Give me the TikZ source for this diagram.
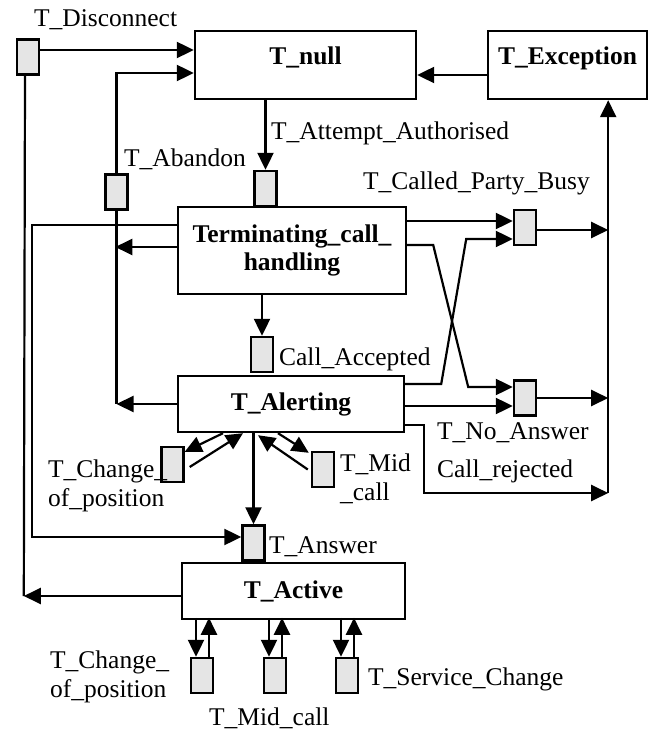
\documentclass[tikz,border=0pt]{standalone}
\usepackage{fontspec}
\setmainfont{Liberation Serif}
\usetikzlibrary{arrows.meta,calc}

\begin{document}
\begin{tikzpicture}[x=0.5pt, y=-0.5pt, >={Triangle[length=8.5pt,width=8pt]}, line width=1.1pt,
    font=\fontsize{12.75}{14.5}\selectfont,
    state/.style={draw, line width=1.2pt, inner sep=0pt, align=center,
        font=\fontsize{12.75}{14}\selectfont\bfseries},
    raised/.style={text height=5pt, text depth=5pt},
    trans/.style={draw, fill=gray!20, line width=1.2pt, inner sep=0pt,
        minimum width=11pt, minimum height=17.5pt},
    lbl/.style={anchor=base west, inner sep=0pt, align=left}]
    \useasboundingbox (0,0) rectangle (656,731);

    % states
    \node[state, raised, minimum width=110.5pt, minimum height=34pt] (Tnull) at (305.5,65) {T\_null};
    \node[state, raised, minimum width=79.5pt, minimum height=34pt] (Texc) at (567.5,65) {T\_Exception};
    \node[state, minimum width=114pt, minimum height=43.5pt] (Term) at (292,250.5) {Terminating\_call\_\\handling};
    \node[state, minimum width=113pt, minimum height=28pt] (Alert) at (291,404) {T\_Alerting};
    \node[state, minimum width=111.5pt, minimum height=28pt] (Active) at (293.5,591) {T\_Active};

    % transitions
    \node[trans] (rDisc) at (28,57) {};
    \node[trans] (rAband) at (116.5,192) {};
    \node[trans] (rAttempt) at (265.5,188.5) {};
    \node[trans] (rBusy) at (525,227.5) {};
    \node[trans] (rNoAns) at (525,398) {};
    \node[trans] (rAccept) at (262,354.5) {};
    \node[trans] (rChangeA) at (172.5,464.5) {};
    \node[trans] (rMidA) at (323,469.5) {};
    \node[trans] (rAnswer) at (253.5,543) {};
    \node[trans] (rChangeB) at (202,675.5) {};
    \node[trans] (rMidB) at (275,675.5) {};
    \node[trans] (rServ) at (347,675.5) {};

    % labels (two-line ones sit on their last baseline)
    \node[lbl] (lDisc) at (33,27) {T\_Disconnect};
    \node[lbl] (lAband) at (123,167) {T\_Abandon};
    \node[lbl] (lAttempt) at (270,140) {T\_Attempt\_Authorised};
    \node[lbl] (lBusy) at (362,190) {T\_Called\_Party\_Busy};
    \node[lbl] (lAccept) at (278,365) {Call\_Accepted};
    \node[lbl] (lNoAns) at (436,439) {T\_No\_Answer};
    \node[lbl] (lReject) at (436,477) {Call\_rejected};
    \node[lbl] (lChangeA) at (47,506) {T\_Change\_\\of\_position};
    \node[lbl] (lMidA) at (339,500) {T\_Mid\\\_call};
    \node[lbl] (lAnswer) at (268,553) {T\_Answer};
    \node[lbl] (lChangeB) at (49,697) {T\_Change\_\\of\_position};
    \node[lbl] (lMidB) at (208,725) {T\_Mid\_call};
    \node[lbl] (lServ) at (367,685) {T\_Service\_Change};

    % top part
    \draw[->] ($(rDisc.east)+(0,-7)$) -- ($(Tnull.west)+(0,-15)$);
    \draw[->] (rAband.north) |- ($(Tnull.west)+(0,8)$);
    \draw[->] ($(Texc.west)+(0,10)$) -- ($(Tnull.east)+(0,10)$);
    \draw[->] (rAttempt.north |- Tnull.south) -- (rAttempt.north);
    \draw[->] (rAccept.north |- Term.south) -- (rAccept.north);
    \draw[->] (rAnswer.north |- Alert.south) -- (rAnswer.north);

    % left side
    \draw[->] ($(Active.west)+(0,5)$) -- ++(-157,0) coordinate (dJoin);
    \draw ($(rDisc.south)+(-3,0)$) -- (dJoin);
    \draw (rAband.south) -- (rAband.south |- Alert.west);
    \draw[->] ($(Term.west)+(0,-3.5)$) -- ++(-61.5,0);
    \draw[->] (Alert.west) -- (Alert.west -| rAband.south);
    \draw[->] ($(Term.west)+(0,-25.5)$) -- ++(-145,0) |- ($(rAnswer.west)+(0,-6)$);

    % right side
    \draw[->] ($(Term.east)+(0,-29.5)$) -- ($(rBusy.west)+(0,-6.5)$);
    \draw[->] ($(Term.east)+(0,-5.5)$) -- ++(26,0) -- ++(35,142) -- ($(rNoAns.west)+(0,-11)$);
    \draw[->] ($(Alert.east)+(0,-20)$) -- ++(36,0) -- ++(25,-145) -- ($(rBusy.west)+(0,11.5)$);
    \draw[->] ($(Alert.east)+(0,2)$) -- ($(rNoAns.west)+(0,8)$);
    \draw[->] ($(Alert.east)+(0,21)$) -- ++(19,0) |- ++(184,68) coordinate (eJoin);
    \draw[->] (eJoin) -- (eJoin |- Texc.south);
    \draw[->] ($(rBusy.east)+(0,2.5)$) -- ++(71,0);
    \draw[->] (rNoAns.east) -- ++(71,0);

    % around T_Alerting
    \draw[->] ($(Alert.south)+(-68,0)$) -- ($(rChangeA.north east)+(0,6)$);
    \draw[->] ($(rChangeA.east)+(5,2.5)$) -- ($(Alert.south)+(-48,0)$);
    \draw[->] ($(Alert.south)+(-13,0)$) -- ($(rMidA.north west)+(-2,2)$);
    \draw[->] ($(rMidA.west)+(-3,0)$) -- ($(Alert.south)+(-33,2)$);

    % below T_Active
    \foreach \r in {rChangeB,rMidB,rServ}{
        \draw[->] ($(\r.north)+(-6,-39)$) -- ($(\r.north)+(-6,0)$);
        \draw[->] ($(\r.north)+(7,0)$) -- ($(\r.north)+(7,-39)$);
    }
\end{tikzpicture}
\end{document}
